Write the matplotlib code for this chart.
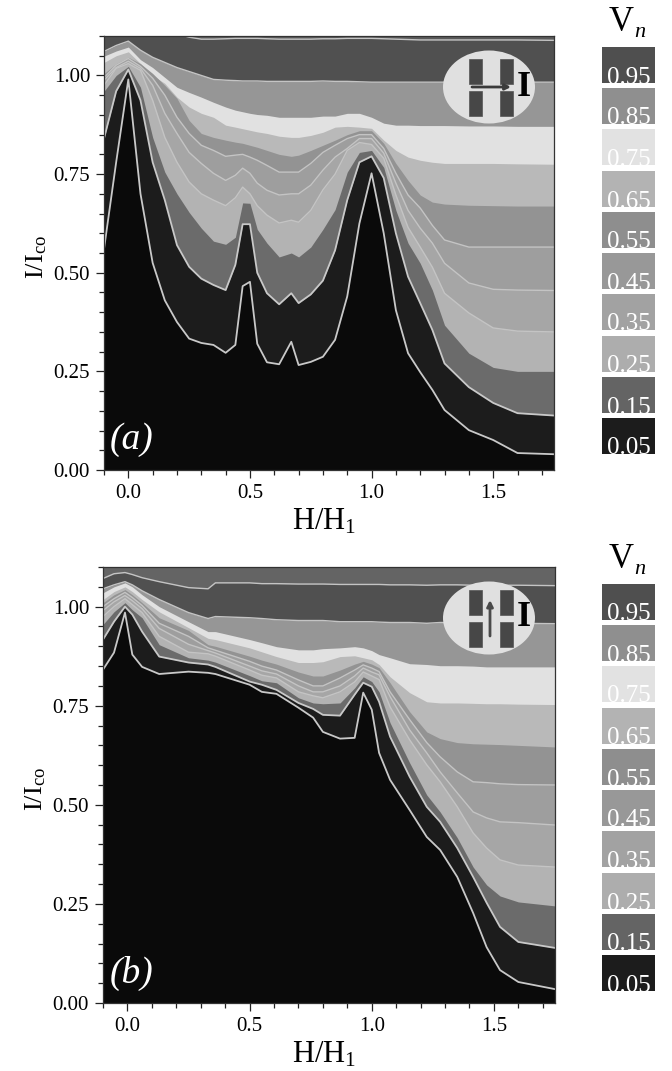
#!/usr/bin/env python3
"""Two filled-contour panels of V_n over H/H1 and I/Ico, with grey legend swatches."""
import matplotlib; matplotlib.use("Agg")
import matplotlib.pyplot as plt
from matplotlib.patches import Ellipse, Rectangle
from matplotlib.ticker import MultipleLocator, FormatStrFormatter

plt.rcParams["font.family"] = ["Liberation Serif", "DejaVu Serif"]
plt.rcParams["mathtext.fontset"] = "custom"
plt.rcParams["mathtext.rm"] = "Liberation Serif"
plt.rcParams["mathtext.it"] = "Liberation Serif:italic"

W, H = 672, 1071

# panel (a): contour boundaries, lowest level first
xa = [-.1,-.05,0,.05,.1,.15,.2,.25,.3,.35,.4,.44,.47,.5,.53,.57,.62,.67,.7,.75,.8,.85,.9,.95,1.0,1.05,1.1,1.15,1.2,1.25,1.3,1.4,1.5,1.6,1.75]
a1 = [.56,.78,.99,.70,.525,.43,.375,.333,.322,.317,.297,.317,.466,.477,.32,.273,.268,.325,.266,.274,.287,.33,.44,.625,.752,.60,.405,.296,.248,.203,.152,.101,.076,.043,.04]
a2 = [.84,.96,1.015,.937,.78,.684,.57,.515,.485,.469,.456,.52,.623,.623,.50,.448,.42,.448,.423,.445,.48,.557,.684,.78,.795,.74,.60,.49,.423,.355,.27,.21,.17,.144,.138]
a3 = [.96,1.0,1.023,.97,.843,.755,.70,.653,.613,.58,.572,.59,.677,.676,.61,.575,.54,.55,.54,.565,.61,.66,.755,.805,.81,.767,.658,.575,.524,.456,.367,.296,.26,.25,.25]
a4 = [.975,1.018,1.03,1.013,.937,.843,.78,.73,.70,.684,.67,.69,.717,.70,.67,.646,.626,.633,.628,.658,.71,.75,.81,.83,.825,.79,.697,.615,.565,.514,.448,.398,.36,.352,.35]
a5 = [.988,1.02,1.036,1.018,.975,.904,.853,.805,.777,.752,.734,.747,.765,.752,.727,.709,.697,.70,.70,.722,.76,.793,.815,.84,.84,.803,.727,.658,.613,.575,.524,.474,.458,.456,.455]
a6 = [.995,1.026,1.043,1.023,.993,.95,.894,.853,.823,.81,.795,.798,.80,.793,.785,.772,.755,.755,.755,.777,.805,.823,.84,.85,.85,.815,.752,.697,.664,.62,.583,.565,.565,.565,.565]
a7 = [1.005,1.03,1.046,1.03,1.005,.975,.942,.886,.853,.843,.836,.831,.828,.823,.818,.81,.80,.795,.798,.81,.823,.836,.85,.86,.86,.828,.777,.734,.697,.679,.674,.671,.67,.669,.669]
a8 = [1.033,1.05,1.06,1.03,1.0,.98,.945,.92,.904,.894,.874,.869,.865,.861,.857,.853,.846,.843,.843,.848,.856,.869,.871,.869,.866,.836,.81,.793,.785,.78,.777,.777,.777,.776,.775]
a9 = [1.049,1.062,1.072,1.04,1.02,.995,.97,.957,.945,.932,.92,.912,.908,.904,.901,.899,.894,.894,.894,.894,.897,.897,.904,.904,.894,.879,.874,.874,.873,.873,.873,.872,.872,.871,.871]
a10 = [1.061,1.076,1.087,1.064,1.046,1.033,1.02,1.01,1.0,.99,.988,.987,.986,.986,.986,.985,.985,.985,.985,.985,.986,.985,.985,.984,.983,.983,.983,.983,.983,.983,.983,.983,.983,.983,.983]
a11 = [1.13,1.13,1.13,1.13,1.13,1.12,1.105,1.097,1.092,1.092,1.093,1.094,1.094,1.094,1.094,1.093,1.092,1.092,1.092,1.092,1.093,1.093,1.094,1.094,1.094,1.093,1.092,1.091,1.09,1.09,1.09,1.09,1.09,1.09,1.089]

# panel (b)
xb = [-.1,-.055,-.01,.02,.06,.13,.25,.33,.36,.5,.55,.61,.7,.76,.8,.87,.93,.965,1.0,1.03,1.075,1.155,1.225,1.28,1.35,1.415,1.47,1.525,1.6,1.75]
b1 = [.841,.884,.985,.879,.848,.83,.836,.833,.83,.803,.785,.78,.745,.72,.684,.667,.669,.783,.74,.631,.563,.487,.419,.386,.318,.227,.141,.083,.053,.035]
b2 = [.917,.962,1.0,.98,.937,.874,.859,.854,.848,.811,.803,.79,.757,.742,.727,.725,.778,.808,.798,.76,.672,.571,.495,.457,.391,.318,.253,.192,.154,.139]
b3 = [.955,.987,1.01,.992,.972,.904,.871,.865,.86,.826,.813,.808,.77,.757,.755,.757,.795,.823,.811,.785,.707,.606,.525,.482,.417,.343,.298,.27,.255,.245]
b4 = [.975,1.0,1.02,1.005,.985,.925,.885,.881,.875,.84,.827,.82,.785,.775,.77,.785,.81,.835,.825,.816,.747,.664,.601,.558,.495,.429,.391,.361,.348,.343]
b5 = [.99,1.012,1.028,1.015,.995,.945,.905,.889,.883,.85,.838,.83,.80,.785,.785,.80,.825,.845,.835,.828,.773,.689,.631,.583,.53,.482,.467,.457,.455,.449]
b6 = [1.0,1.02,1.036,1.023,1.003,.958,.925,.896,.89,.862,.85,.84,.815,.80,.80,.82,.84,.853,.845,.836,.785,.715,.657,.621,.583,.558,.556,.553,.551,.55]
b7 = [1.01,1.03,1.043,1.03,1.01,.972,.94,.904,.90,.875,.865,.855,.835,.825,.825,.84,.855,.862,.855,.846,.808,.735,.684,.667,.657,.654,.653,.652,.65,.646]
b8 = [1.018,1.038,1.05,1.038,1.018,.987,.947,.92,.917,.896,.886,.874,.859,.859,.861,.874,.876,.871,.866,.854,.823,.783,.76,.757,.757,.756,.755,.755,.754,.753]
b9 = [1.035,1.05,1.06,1.05,1.03,1.0,.962,.937,.937,.917,.909,.899,.891,.891,.894,.896,.899,.896,.889,.879,.871,.856,.854,.851,.851,.85,.848,.848,.848,.848]
b10 = [1.045,1.055,1.063,1.055,1.04,1.018,.985,.97,.975,.972,.97,.967,.965,.965,.965,.962,.962,.962,.962,.961,.96,.96,.958,.96,.96,.96,.959,.958,.958,.957]
b11 = [1.071,1.083,1.086,1.081,1.073,1.063,1.048,1.045,1.06,1.06,1.058,1.058,1.057,1.057,1.057,1.056,1.056,1.056,1.056,1.056,1.055,1.055,1.054,1.055,1.055,1.054,1.054,1.054,1.054,1.053]

curves_a = [a1, a2, a3, a4, a5, a6, a7, a8, a9, a10, a11]
curves_b = [b1, b2, b3, b4, b5, b6, b7, b8, b9, b10, b11]

# grey of the band above each boundary
band_grey = ["#1c1c1c", "#6b6b6b", "#b3b3b3", "#a6a6a6", "#9e9e9e", "#939393", "#b9b9b9", "#e1e1e1", "#969696", "#505050"]
bottom_grey = "#0a0a0a"
lined = [0, 1, 3, 4, 5, 9, 10]

level_labels = ["0.95", "0.85", "0.75", "0.65", "0.55", "0.45", "0.35", "0.25", "0.15", "0.05"]
level_grey = ["#4f4f4f", "#8f8f8f", "#e2e2e2", "#b3b3b3", "#8e8e8e", "#989898", "#a2a2a2", "#adadad", "#646464", "#1c1c1c"]
swatch_top = [47, 88, 129, 171, 212, 253, 294, 336, 377, 418]


def px_axes(fig, l, t, r, b):
    return fig.add_axes([l/W, 1-b/H, (r-l)/W, (b-t)/H])


def panel(ax, x, curves, top_grey, ylab_y):
    ax.set_facecolor(top_grey)
    # paint from the top level down so no seams show between the bands
    for i in range(9, -1, -1):
        ax.fill_between(x, 0, curves[i+1], color=band_grey[i], lw=0)
    ax.fill_between(x, 0, curves[0], color=bottom_grey, lw=0)
    for i in lined:
        lw, c = (1.3, "#c9c9c9") if i < 2 else (1.0, "#c4c4c4")
        ax.plot(x, curves[i], color=c, lw=lw)
    ax.set_xlim(-.1, 1.75); ax.set_ylim(0, 1.1)
    ax.xaxis.set_major_locator(MultipleLocator(.5)); ax.xaxis.set_minor_locator(MultipleLocator(.1))
    ax.yaxis.set_major_locator(MultipleLocator(.25)); ax.yaxis.set_minor_locator(MultipleLocator(.05))
    ax.xaxis.set_major_formatter(FormatStrFormatter("%.1f"))
    ax.yaxis.set_major_formatter(FormatStrFormatter("%.2f"))
    ax.tick_params(which="major", length=6, width=.9, labelsize=15, color="#222222", pad=4)
    ax.tick_params(which="minor", length=3.5, width=.9, color="#222222")
    for s in ax.spines.values():
        s.set_linewidth(.9); s.set_color("#333333")
    ax.set_xlabel(r"$\mathrm{H/H_1}$", fontsize=22, labelpad=3, x=.49)
    ax.set_ylabel(r"$\mathrm{I/I_{co}}$", fontsize=19, labelpad=3, y=ylab_y)


def inset(ov, dy, vertical):
    ov.add_patch(Ellipse((489, 87+dy), 92, 73, fc="#e0e0e0", ec="none"))
    for l in (468.5, 500):
        for t in (59, 90.5):
            ov.add_patch(Rectangle((l, t+dy), 13, 25, fc="#474747", ec="#555555", lw=.5))
    if vertical:
        ov.annotate("", xy=(490, 69+dy), xytext=(490, 105+dy),
                    arrowprops=dict(arrowstyle="-|>", color="#4a4a4a", lw=2, mutation_scale=9, shrinkA=0, shrinkB=0))
    else:
        ov.annotate("", xy=(511, 87+dy), xytext=(472, 87+dy),
                    arrowprops=dict(arrowstyle="-|>", color="#3a3a3a", lw=2, mutation_scale=8, shrinkA=0, shrinkB=0))
    ov.text(523.5, 87+dy, "I", fontsize=26, fontweight="bold", ha="center", va="center", color="black")


def legend(ov, dy):
    ov.text(621, 31+dy, "V", fontsize=25, ha="center", va="baseline")
    ov.text(640, 37+dy, "n", fontsize=16, style="italic", ha="center", va="baseline")
    for t, g, lab in zip(swatch_top, level_grey, level_labels):
        r = Rectangle((602, t+dy), 53, 35.5, fc=g, ec="none")
        ov.add_patch(r)
        txt = ov.text(628.5, t+dy+36.5, lab, fontsize=18, color="white", ha="center", va="baseline")
        txt.set_clip_path(r)


fig = plt.figure(figsize=(W/100, H/100), dpi=100)
ax_a = px_axes(fig, 104, 36, 554, 470)
ax_b = px_axes(fig, 103, 567, 555, 1003)
panel(ax_a, xa, curves_a, "#5a5a5a", .49)
panel(ax_b, xb, curves_b, "#646464", .49)

# overlay in pixel units for the inset sketches and legends
ov = fig.add_axes([0, 0, 1, 1]); ov.set_xlim(0, W); ov.set_ylim(H, 0); ov.axis("off")
inset(ov, 0, False)
inset(ov, 531, True)
legend(ov, 0)
legend(ov, 537)
ov.text(132, 440, "(a)", fontsize=27, style="italic", color="white", ha="center", va="center")
ov.text(132, 973, "(b)", fontsize=27, style="italic", color="white", ha="center", va="center")

fig.savefig("out.png", dpi=100)
